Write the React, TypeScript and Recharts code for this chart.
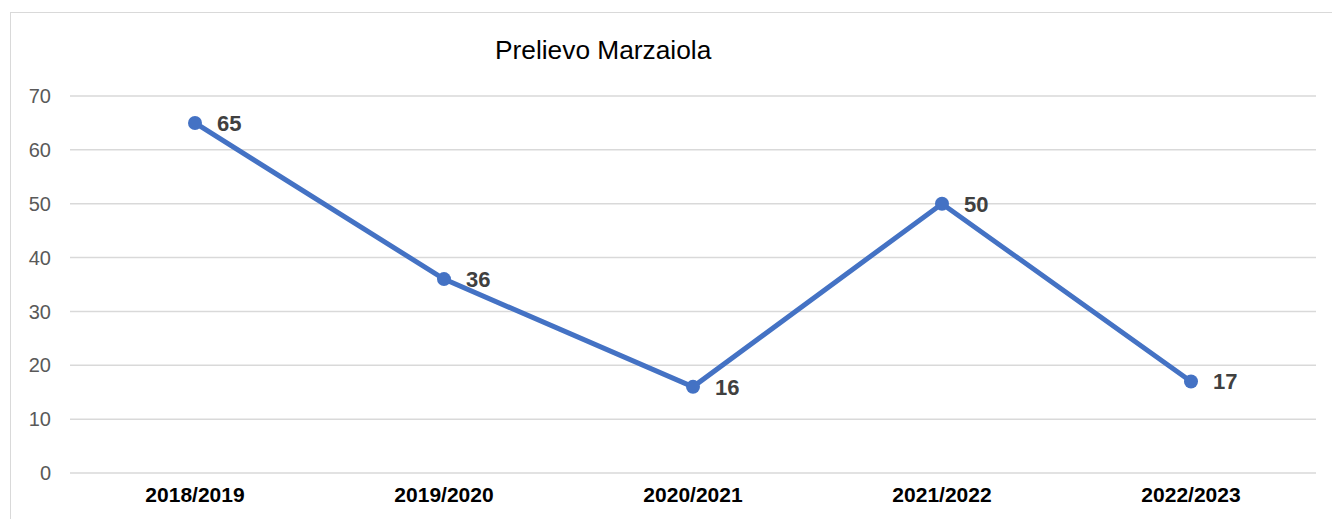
import { LineChart, Line, XAxis, YAxis, CartesianGrid, LabelList } from 'recharts'

const seasons = ['2018/2019', '2019/2020', '2020/2021', '2021/2022', '2022/2023']
const prelievo = [65, 36, 16, 50, 17]
const yTicks = [0, 10, 20, 30, 40, 50, 60, 70]

const data = seasons.map((s, i) => ({ season: s, value: prelievo[i] }))

const FONT = '"Liberation Sans", Arial, sans-serif'
const BLUE = '#4472C4'

export default function App() {
  return (
    <div
      style={{
        position: 'absolute',
        left: 10,
        top: 12,
        width: 1330,
        height: 520,
        borderTop: '1px solid #d9d9d9',
        borderLeft: '1px solid #d9d9d9',
        borderRight: '1px solid #d9d9d9',
        background: '#fff',
        fontFamily: FONT,
      }}
    >
      <div
        style={{
          position: 'absolute',
          left: 484,
          top: 22,
          fontSize: 26.3,
          color: '#000',
          whiteSpace: 'nowrap',
        }}
      >
        Prelievo Marzaiola
      </div>
      <LineChart
        width={1320}
        height={506}
        data={data}
        margin={{ top: 83, right: 15, bottom: 16, left: 0 }}
      >
        <CartesianGrid vertical={false} stroke="#d9d9d9" strokeWidth={1.5} />
        <XAxis
          dataKey="season"
          axisLine={false}
          tickLine={false}
          tickSize={0}
          tickMargin={14}
          height={30}
          padding={{ left: 125, right: 125 }}
          tick={{ fill: '#000', fontSize: 21, fontWeight: 'bold', fontFamily: FONT }}
        />
        <YAxis
          domain={[0, 70]}
          ticks={yTicks}
          width={59}
          axisLine={false}
          tickLine={false}
          tickSize={0}
          tickMargin={19}
          tick={{ fill: '#595959', fontSize: 20, fontFamily: FONT }}
        />
        <Line
          type="linear"
          dataKey="value"
          stroke={BLUE}
          strokeWidth={5}
          dot={{ r: 7, fill: BLUE, stroke: BLUE, strokeWidth: 0 }}
          isAnimationActive={false}
        >
          <LabelList
            dataKey="value"
            position="right"
            offset={22}
            fill="#404040"
            fontSize={22}
            fontWeight="bold"
            fontFamily={FONT}
          />
        </Line>
      </LineChart>
    </div>
  )
}
